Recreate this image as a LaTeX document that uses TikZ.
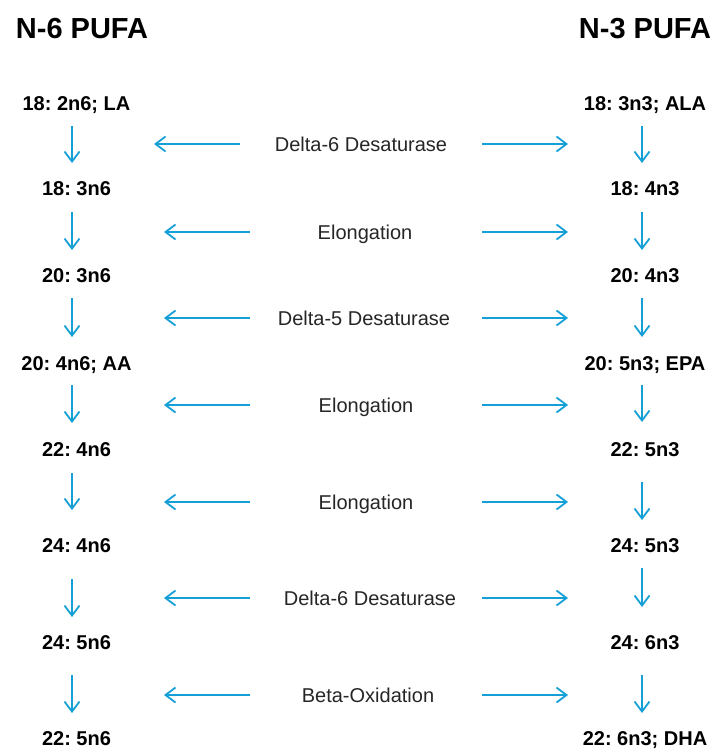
\documentclass[tikz,border=0pt]{standalone}
\usepackage{fontspec}
\setmainfont{Liberation Sans}
\usetikzlibrary{arrows.meta}
\definecolor{arrblue}{RGB}{20,160,214}
\frenchspacing
\tikzset{
  fa/.style={font=\fontsize{20}{22}\selectfont\bfseries, anchor=base, inner sep=0pt},
  title/.style={font=\fontsize{29}{32}\selectfont\bfseries, anchor=base, inner sep=0pt},
  enz/.style={font=\fontsize{20}{22}\selectfont, anchor=base, inner sep=0pt, text=black!85},
  arr/.style={draw=arrblue, line width=1.8pt, -{Straight Barb[length=10pt,width=15pt,line width=1.8pt]}},
}
\begin{document}
\begin{tikzpicture}[x=1pt,y=-1pt]
\useasboundingbox[fill=white] (0,0) rectangle (716,749);
% titles
\node[title] (t6) at (82,38.4) {N-6 PUFA};
\node[title] (t3) at (645,38.4) {N-3 PUFA};
% fatty acids
\foreach \i/\y/\l/\r in {1/103/{18: 2n6; LA}/{18: 3n3; ALA},
                         2/188/{18: 3n6}/{18: 4n3},
                         3/275/{20: 3n6}/{20: 4n3},
                         4/363/{20: 4n6; AA}/{20: 5n3; EPA},
                         5/449/{22: 4n6}/{22: 5n3},
                         6/545/{24: 4n6}/{24: 5n3},
                         7/642/{24: 5n6}/{24: 6n3},
                         8/738/{22: 5n6}/{22: 6n3; DHA}}{
  \node[fa] (L\i) at (76.5,\y+7.2) {\l};
  \node[fa] (R\i) at (645,\y+7.2) {\r};
}
% vertical arrows
\foreach \i/\a/\b/\c/\d in {1/126/163/126/163, 2/212/250/212/250, 3/298/337/298/337,
                           4/385/423/385/422, 5/473/510/482/520, 6/579/617/568/607,
                           7/675/713/675/713}{
  \coordinate (ls\i) at (72,\a);  \coordinate (le\i) at (72,\b);
  \coordinate (rs\i) at (642,\c); \coordinate (re\i) at (642,\d);
  \draw[arr] (ls\i) -- (le\i);
  \draw[arr] (rs\i) -- (re\i);
}
% enzymes and horizontal arrows
\foreach \i/\x/\y/\t/\s in {1/361/144/{Delta-6 Desaturase}/240,
                         2/365/232/{Elongation}/250,
                         3/364/318/{Delta-5 Desaturase}/250,
                         4/366/405/{Elongation}/250,
                         5/366/502/{Elongation}/250,
                         6/370/598/{Delta-6 Desaturase}/250,
                         7/368/695/{Beta-Oxidation}/250}{
  \node[enz] (E\i) at (\x,\y+7.2) {\t};
  \coordinate (hl\i) at (\s,\y); \coordinate (hle\i) at (\s-86,\y);
  \coordinate (hr\i) at (482,\y); \coordinate (hre\i) at (568,\y);
  \draw[arr] (hl\i) -- (hle\i);
  \draw[arr] (hr\i) -- (hre\i);
}
\end{tikzpicture}
\end{document}
